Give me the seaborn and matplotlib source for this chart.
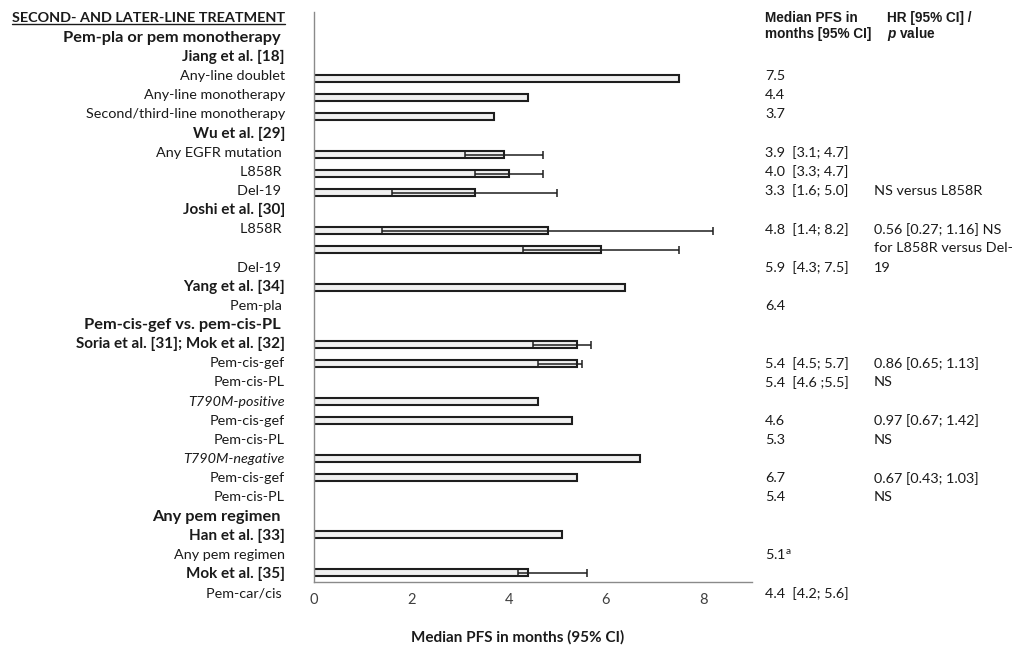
import matplotlib
matplotlib.use("Agg")
import matplotlib.pyplot as plt
import seaborn as sns
import pandas as pd
import numpy as np
from matplotlib.transforms import blended_transform_factory
from matplotlib.lines import Line2D

# ---- data -------------------------------------------------------------
row_labels = [
    "SECOND- AND LATER-LINE TREATMENT",
    "Pem-pla or pem monotherapy ",
    "Jiang et al. [18]",
    "Any-line doublet",
    "Any-line monotherapy",
    "Second/third-line monotherapy",
    "Wu et al. [29]",
    "Any EGFR mutation ",
    "L858R ",
    "Del-19 ",
    "Joshi et al. [30]",
    "L858R ",
    "",
    "Del-19 ",
    "Yang et al. [34]",
    "Pem-pla ",
    "Pem-cis-gef vs. pem-cis-PL ",
    "Soria et al. [31]; Mok et al. [32]",
    "Pem-cis-gef",
    "Pem-cis-PL",
    "T790M-positive",
    "Pem-cis-gef",
    "Pem-cis-PL",
    "T790M-negative",
    "Pem-cis-gef",
    "Pem-cis-PL",
    "Any pem regimen ",
    "Han et al. [33]",
    "Any pem regimen",
    "Mok et al. [35]",
    "Pem-car/cis ",
]
row_styles = [
    "header", "section", "bold", "normal", "normal", "normal", "bold", "normal",
    "normal", "normal", "bold", "normal", "normal", "normal", "bold", "normal",
    "section", "bold", "normal", "normal", "italic", "normal", "normal", "italic",
    "normal", "normal", "section", "bold", "normal", "bold", "normal",
]

# bars: slot index on the value axis, median PFS and 95% CI (months)
bar_rows = [3, 4, 5, 7, 8, 9, 11, 12, 14, 17, 18, 20, 21, 23, 24, 27, 29]
bar_median = [7.5, 4.4, 3.7, 3.9, 4.0, 3.3, 4.8, 5.9, 6.4, 5.4, 5.4,
              4.6, 5.3, 6.7, 5.4, 5.1, 4.4]
ci_low = [np.nan, np.nan, np.nan, 3.1, 3.3, 1.6, 1.4, 4.3, np.nan, 4.5, 4.6,
          np.nan, np.nan, np.nan, np.nan, np.nan, 4.2]
ci_high = [np.nan, np.nan, np.nan, 4.7, 4.7, 5.0, 8.2, 7.5, np.nan, 5.7, 5.5,
           np.nan, np.nan, np.nan, np.nan, np.nan, 5.6]

# right-hand text columns
pfs_rows = [3, 4, 5, 7, 8, 9, 11, 13, 15, 18, 19, 21, 22, 24, 25, 28, 30]
pfs_text = ["7.5", "4.4", "3.7", "3.9  [3.1; 4.7]", "4.0  [3.3; 4.7]",
            "3.3  [1.6; 5.0]", "4.8  [1.4; 8.2]", "5.9  [4.3; 7.5]", "6.4",
            "5.4  [4.5; 5.7]", "5.4  [4.6 ;5.5]", "4.6", "5.3", "6.7", "5.4",
            r"5.1$^{\rm a}$", "4.4  [4.2; 5.6]"]
hr_rows = [9, 11, 12, 13, 18, 19, 21, 22, 24, 25]
hr_text = ["NS versus L858R", "0.56 [0.27; 1.16] NS", "for L858R versus Del-",
           "19", "0.86 [0.65; 1.13]", "NS", "0.97 [0.67; 1.42]", "NS",
           "0.67 [0.43; 1.03]", "NS"]

x_ticks = [0, 2, 4, 6, 8]
n_slots = 30

# ---- style ------------------------------------------------------------
sns.set_theme(style="white")
plt.rcParams["font.family"] = ["Lato", "DejaVu Sans"]
plt.rcParams["mathtext.fontset"] = "custom"
plt.rcParams["mathtext.rm"] = "Lato"
plt.rcParams["mathtext.it"] = "Liberation Sans:italic:bold"

ink = "#1a1a1a"
W, H = 1015, 645
fig = plt.figure(figsize=(W / 100, H / 100), dpi=100)
ax = fig.add_axes([314 / W, 1 - 582 / H, (752 - 314) / W, (582 - 12) / H])

df = pd.DataFrame({"row": bar_rows, "median": bar_median,
                   "lo": ci_low, "hi": ci_high})

sns.barplot(data=df, x="median", y="row", order=list(range(n_slots)),
            orient="h", color="#f0f0f0", saturation=1, edgecolor="#1e1e1e",
            linewidth=1.5, width=0.38, errorbar=None, ax=ax)

ci = df.dropna()
ax.errorbar(x=ci["median"], y=ci["row"],
            xerr=[ci["median"] - ci["lo"], ci["hi"] - ci["median"]],
            fmt="none", ecolor="#1e1e1e", elinewidth=1.1, capsize=2.6,
            capthick=1.1, zorder=4)

ax.set_xlim(0, 9)
ax.set_ylim(n_slots - 0.5, -0.5)
ax.set_xticks(x_ticks)
ax.set_xticklabels([str(t) for t in x_ticks])
ax.set_yticks(np.arange(n_slots + 1) - 0.5)
ax.set_yticklabels([])
ax.set_xlabel("")
ax.set_ylabel("")

axis_grey = "#8a8a8a"
for side in ["top", "right"]:
    ax.spines[side].set_visible(False)
for side in ["left", "bottom"]:
    ax.spines[side].set_color(axis_grey)
    ax.spines[side].set_linewidth(1.0)
ax.tick_params(axis="both", direction="out", length=3, width=1.0,
               color=axis_grey)
ax.tick_params(axis="x", labelsize=10.5, labelcolor="#404040", pad=5)

# ---- left row labels --------------------------------------------------
lbl_tr = blended_transform_factory(fig.transFigure, ax.transData)


def label_y(i):
    return 1.008 * i - 0.153


style_kw = {
    "normal": dict(fontsize=10.4),
    "italic": dict(fontsize=10.4, fontstyle="italic"),
    "bold": dict(fontsize=11.0, fontweight="bold"),
    "section": dict(fontsize=11.8, fontweight="bold"),
}

header_text = None
for i, (txt, sty) in enumerate(zip(row_labels, row_styles)):
    if sty == "header":
        header_text = fig.text(285 / W, 1 - 21.5 / H, txt, ha="right",
                               va="baseline", fontsize=10.4,
                               fontweight="bold", color=ink)
        continue
    ax.text(285 / W, label_y(i), txt, transform=lbl_tr, ha="right",
            va="center", clip_on=False, color=ink, **style_kw[sty])

# ---- right-hand columns -----------------------------------------------
for r, txt in zip(pfs_rows, pfs_text):
    ax.text(765 / W, label_y(r), txt, transform=lbl_tr, ha="left",
            va="center", fontsize=10.4, color=ink, clip_on=False)
for r, txt in zip(hr_rows, hr_text):
    ax.text(874 / W, label_y(r), txt, transform=lbl_tr, ha="left",
            va="center", fontsize=10.4, color=ink, clip_on=False)

hdr_kw = dict(fontsize=9.8, fontweight="bold", family="Liberation Sans",
              color=ink, va="center", ha="left")
fig.text(765 / W, 1 - 18 / H, "Median PFS in", **hdr_kw)
fig.text(765 / W, 1 - 34 / H, "months [95% CI]", **hdr_kw)
fig.text(887 / W, 1 - 18 / H, "HR [95% CI] /", **hdr_kw)
fig.text(887 / W, 1 - 34 / H, r"$p$ value", **hdr_kw)

fig.text(518 / W, 1 - 637 / H, "Median PFS in months (95% CI)",
         ha="center", va="center", fontsize=11, fontweight="bold",
         color=ink)

# underline the section heading
fig.canvas.draw()
bb = header_text.get_window_extent(fig.canvas.get_renderer())
base_y = (1 - 21.5 / H) * H - 2
fig.add_artist(Line2D([bb.x0 / W, bb.x1 / W], [base_y / H, base_y / H],
                      transform=fig.transFigure, color=ink, linewidth=1.0))

fig.savefig("out.png", dpi=100)
